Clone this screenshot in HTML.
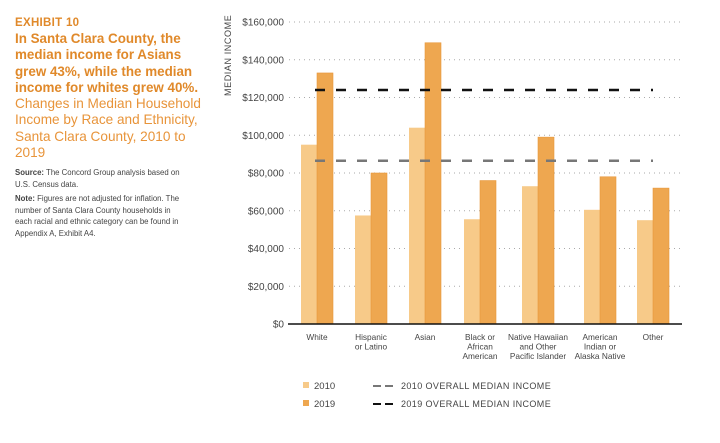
<!DOCTYPE html>
<html><head><meta charset="utf-8"><style>
body{margin:0;width:720px;height:443px;background:#fff;overflow:hidden;font-family:"Liberation Sans",sans-serif;position:relative}
.side{position:absolute;left:15px;top:16px;width:200px;white-space:nowrap}
.ex{color:#e0892a;font-size:11.5px;font-weight:bold;letter-spacing:.3px;line-height:14px}
.hd{color:#e0892a;font-size:13.4px;font-weight:bold;line-height:16.3px;margin-top:1px}
.sub{color:#e8943a;font-size:13.6px;line-height:16.3px}
.src{color:#444;font-size:7.8px;line-height:11.5px;margin-top:6px}
</style></head><body>
<div class="side">
<div class="ex">EXHIBIT 10</div>
<div class="hd">In Santa Clara County, the<br>median income for Asians<br>grew 43%, while the median<br>income for whites grew 40%.</div>
<div class="sub">Changes in Median Household<br>Income by Race and Ethnicity,<br>Santa Clara County, 2010 to<br>2019</div>
<div class="src"><b>Source:</b> The Concord Group analysis based on<br>U.S. Census data.</div>
<div class="src" style="margin-top:3px"><b>Note:</b> Figures are not adjusted for inflation. The<br>number of Santa Clara County households in<br>each racial and ethnic category can be found in<br>Appendix A, Exhibit A4.</div>
</div>
<svg id="c" width="720" height="443" style="position:absolute;left:0;top:0" font-family="Liberation Sans, sans-serif"></svg>
<script>
const categories=[["White"],["Hispanic","or Latino"],["Asian"],["Black or","African","American"],["Native Hawaiian","and Other","Pacific Islander"],["American","Indian or","Alaska Native"],["Other"]];
const centers=[317,371,425,480,538,600,653];
const values2010=[95000,57500,104000,55500,73000,60500,55000];
const values2019=[133000,80000,149000,76000,99000,78000,72000];
const ticks=[0,20000,40000,60000,80000,100000,120000,140000,160000];
const median2010=86500, median2019=124000;
const NS="http://www.w3.org/2000/svg",svg=document.getElementById('c');
const y=v=>324-v/160000*302;
function mk(t,a,p){const e=document.createElementNS(NS,t);for(const k in a)e.setAttribute(k,a[k]);(p||svg).appendChild(e);return e;}
ticks.forEach(t=>{
 const g=mk('line',{x1:289,x2:684,y1:y(t),y2:y(t),stroke:'#aaa','stroke-dasharray':'1 4','stroke-width':1});
 
 
 const l=mk('text',{x:284,y:y(t)+3.5,'text-anchor':'end','font-size':10,fill:'#444'});
 l.textContent='$'+t.toLocaleString('en-US');
 
 
});
const yt=mk('text',{transform:'translate(231,96) rotate(-90)','font-size':9,fill:'#444','letter-spacing':'0.6'});
yt.textContent='MEDIAN INCOME';


categories.forEach((c,i)=>{
 const cx=centers[i];
 const b1=mk('rect',{x:cx-16,y:y(values2010[i]),width:16,height:324-y(values2010[i]),fill:'#f7ca89'});
 
 
 const b2=mk('rect',{x:cx,y:y(values2019[i]),width:16,height:324-y(values2019[i]),fill:'#eea750',stroke:'#e8973a','stroke-width':0.6});
 
 
 c.forEach((ln,j)=>{
  const t=mk('text',{x:cx,y:340+j*9.5,'text-anchor':'middle','font-size':8.3,fill:'#444'});
  t.textContent=ln;
  
  
 });
});
const ax=mk('line',{x1:288,x2:682,y1:324,y2:324,stroke:'#111','stroke-width':1.5});


const m1=mk('line',{x1:315,x2:653,y1:y(median2010),y2:y(median2010),stroke:'#777','stroke-width':2.5,'stroke-dasharray':'10 11'});


const m2=mk('line',{x1:315,x2:653,y1:y(median2019),y2:y(median2019),stroke:'#111','stroke-width':2.5,'stroke-dasharray':'10 11'});


const leg=[[386,'#f7ca89','2010','#777','2010 OVERALL MEDIAN INCOME'],[404,'#eea750','2019','#111','2019 OVERALL MEDIAN INCOME']];
leg.forEach(r=>{
 const g=mk('g',{});
 
 
 mk('rect',{x:303,y:r[0]-4,width:6,height:6,fill:r[1]},g);
 const t=mk('text',{x:314,y:r[0]+3,'font-size':9.5,fill:'#444'},g);t.textContent=r[2];
 mk('line',{x1:373,x2:396,y1:r[0],y2:r[0],stroke:r[3],'stroke-width':2,'stroke-dasharray':'8 4'},g);
 const t2=mk('text',{x:401,y:r[0]+3,'font-size':9,fill:'#444','letter-spacing':'0.4'},g);t2.textContent=r[4];
});
</script>
</body></html>
